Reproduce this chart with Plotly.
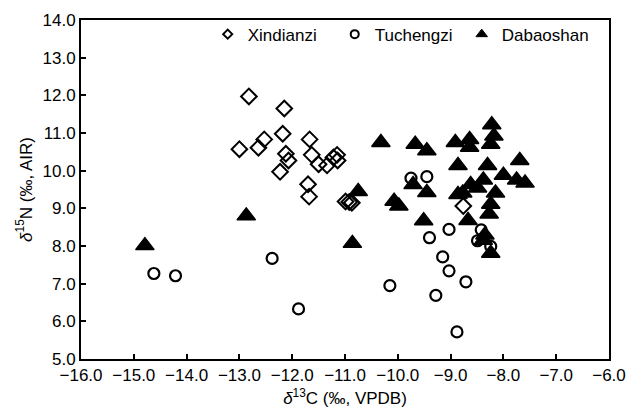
import plotly.graph_objects as go

# Xindianzi (diamonds)
xin_c = [-12.82, -12.15, -13.00, -12.64, -12.53, -12.18, -12.12, -12.07, -12.23,
         -11.67, -11.63, -11.50, -11.34, -11.15, -11.14, -11.22, -11.70, -11.68,
         -10.99, -10.87, -10.92, -8.76]
xin_n = [11.97, 11.65, 10.57, 10.61, 10.83, 10.98, 10.45, 10.27, 9.97,
         10.83, 10.42, 10.17, 10.14, 10.42, 10.27, 10.35, 9.64, 9.31,
         9.18, 9.15, 9.17, 9.06]

# Tuchengzi (circles)
tuc_c = [-14.62, -14.21, -12.38, -11.88, -9.75, -9.45,
         -10.15, -9.40, -9.03, -9.15, -9.03, -8.71, -9.28, -8.88, -8.42, -8.49, -8.24]
tuc_n = [7.27, 7.21, 7.67, 6.33, 9.80, 9.84,
         6.95, 8.22, 8.44, 7.71, 7.34, 7.05, 6.69, 5.72, 8.43, 8.14, 7.99]

# Dabaoshan (filled triangles)
dab_c = [-14.79, -12.87, -10.86, -10.75, -10.32, -10.07, -9.98, -9.71, -9.45, -9.51,
         -9.67, -9.45, -8.91, -8.86, -8.64, -8.64, -8.22, -8.18, -8.24, -8.30,
         -7.69, -8.00, -7.75, -7.59, -8.38, -8.62, -8.77, -8.86, -8.49, -8.15,
         -8.24, -8.27, -8.67, -8.38, -8.24, -8.35]
dab_n = [8.01, 8.80, 8.07, 9.45, 10.75, 9.19, 9.06, 9.63, 9.42, 8.67,
         10.70, 10.53, 10.75, 10.14, 10.83, 10.62, 11.22, 10.92, 10.70, 10.14,
         10.27, 9.88, 9.75, 9.67, 9.75, 9.63, 9.41, 9.37, 9.54, 9.41,
         9.11, 8.85, 8.68, 8.15, 7.81, 8.29]

series_names = ["Xindianzi", "Tuchengzi", "Dabaoshan"]

FONT = "Liberation Sans, Arial, sans-serif"

fig = go.Figure()
fig.add_trace(go.Scatter(x=xin_c, y=xin_n, mode="markers", showlegend=False,
                         marker=dict(symbol="diamond-open", size=12, color="black",
                                     line=dict(width=2, color="black"))))
fig.add_trace(go.Scatter(x=tuc_c, y=tuc_n, mode="markers", showlegend=False,
                         marker=dict(symbol="circle-open", size=11, color="black",
                                     line=dict(width=2.2, color="black"))))
fig.add_trace(go.Scatter(x=dab_c, y=dab_n, mode="markers", showlegend=False,
                         marker=dict(symbol="triangle-up", size=16, color="black",
                                     line=dict(width=1.5, color="black"))))

# legend entries (small symbols as in the reference)
leg_sym = [("diamond-open", 7, 2), ("circle-open", 8, 2), ("triangle-up", 10, 1)]
for name, (sym, sz, lw) in zip(series_names, leg_sym):
    fig.add_trace(go.Scatter(x=[None], y=[None], mode="markers", name=name,
                             marker=dict(symbol=sym, size=sz, color="black",
                                         line=dict(width=lw, color="black"))))

axis_common = dict(showline=True, linewidth=2, linecolor="black", mirror=True,
                   ticks="inside", ticklen=5, tickwidth=1.5, tickcolor="black",
                   showgrid=False, zeroline=False, tickformat=".1f", dtick=1,
                   tickfont=dict(family=FONT, size=17, color="black"))

fig.update_layout(
    width=638, height=417,
    margin=dict(l=81, r=29, t=11, b=58),
    paper_bgcolor="white", plot_bgcolor="white",
    font=dict(family=FONT, size=17, color="black"),
    xaxis=dict(range=[-16, -6],
               title=dict(text="<i>δ</i><sup>13</sup>C (‰, VPDB)", standoff=8,
                          font=dict(family=FONT, size=17)),
               **axis_common),
    yaxis=dict(range=[5, 14],
               title=dict(text="<i>δ</i><sup>15</sup>N (‰, AIR)", standoff=6,
                          font=dict(family=FONT, size=17)),
               **axis_common),
    legend=dict(orientation="h", x=0.24, xanchor="left", y=1.01, yanchor="top",
                bgcolor="rgba(0,0,0,0)", font=dict(family=FONT, size=17),
                entrywidth=82, entrywidthmode="pixels", tracegroupgap=0),
)

fig.write_html("out.html", config={"displayModeBar": False},
               post_script="document.body.style.margin='0';")
